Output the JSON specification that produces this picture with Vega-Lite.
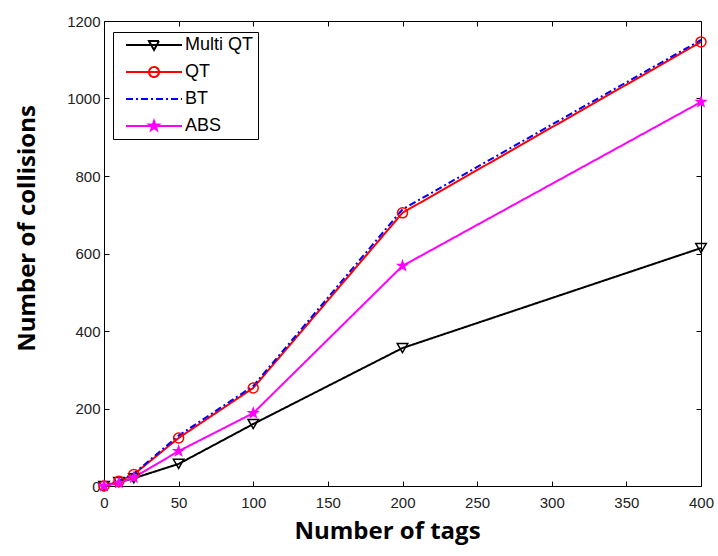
{
  "$schema": "https://vega.github.io/schema/vega-lite/v6.json",
  "autosize": {"type": "none"},
  "width": 597,
  "height": 465,
  "padding": {"left": 104, "top": 21, "right": 17, "bottom": 70},
  "background": "white",
  "config": {
    "view": {"stroke": "#000", "strokeWidth": 1},
    "axis": {
      "domain": false,
      "grid": false,
      "tickColor": "#000",
      "tickSize": -5,
      "labelFlush": false,
      "labelOverlap": false,
      "labelFont": "Liberation Sans",
      "labelFontSize": 15,
      "labelColor": "#222",
      "labelPadding": 9,
      "titleFont": "Open Sans",
      "titleFontSize": 24,
      "titleFontWeight": "bold",
      "titleColor": "#000"
    }
  },
  "data": {
    "values": [
      {"tags": 0, "collisions": 0, "series": "Multi QT"},
      {"tags": 10, "collisions": 10, "series": "Multi QT"},
      {"tags": 20, "collisions": 20, "series": "Multi QT"},
      {"tags": 50, "collisions": 57, "series": "Multi QT"},
      {"tags": 100, "collisions": 160, "series": "Multi QT"},
      {"tags": 200, "collisions": 356, "series": "Multi QT"},
      {"tags": 400, "collisions": 614, "series": "Multi QT"},
      {"tags": 0, "collisions": 0, "series": "QT"},
      {"tags": 10, "collisions": 12, "series": "QT"},
      {"tags": 20, "collisions": 30, "series": "QT"},
      {"tags": 50, "collisions": 124, "series": "QT"},
      {"tags": 100, "collisions": 253, "series": "QT"},
      {"tags": 200, "collisions": 705, "series": "QT"},
      {"tags": 400, "collisions": 1146, "series": "QT"},
      {"tags": 0, "collisions": 0, "series": "BT"},
      {"tags": 10, "collisions": 13, "series": "BT"},
      {"tags": 20, "collisions": 32, "series": "BT"},
      {"tags": 50, "collisions": 130, "series": "BT"},
      {"tags": 100, "collisions": 258, "series": "BT"},
      {"tags": 200, "collisions": 714, "series": "BT"},
      {"tags": 400, "collisions": 1151, "series": "BT"},
      {"tags": 0, "collisions": 0, "series": "ABS"},
      {"tags": 10, "collisions": 8, "series": "ABS"},
      {"tags": 20, "collisions": 22, "series": "ABS"},
      {"tags": 50, "collisions": 90, "series": "ABS"},
      {"tags": 100, "collisions": 188, "series": "ABS"},
      {"tags": 200, "collisions": 568, "series": "ABS"},
      {"tags": 400, "collisions": 991, "series": "ABS"}
    ]
  },
  "resolve": {"axis": {"x": "independent", "y": "independent"}},
  "layer": [
    {
      "mark": {"type": "line", "strokeWidth": 2},
      "encoding": {
        "x": {
          "field": "tags", "type": "quantitative",
          "scale": {"domain": [0, 400], "nice": false},
          "axis": {"values": [0, 50, 100, 150, 200, 250, 300, 350, 400], "format": "d", "labelPadding": 14, "title": "Number of tags", "titlePadding": 9, "titleX": 283, "titleAlign": "center"}
        },
        "y": {
          "field": "collisions", "type": "quantitative",
          "scale": {"domain": [0, 1200], "nice": false},
          "axis": {"values": [0, 200, 400, 600, 800, 1000, 1200], "format": "d", "title": "Number of collisions", "titlePadding": 27, "titleY": 207, "titleAlign": "center"}
        },
        "color": {
          "field": "series", "type": "nominal",
          "scale": {"domain": ["Multi QT", "QT", "BT", "ABS"], "range": ["#000000", "#ff0000", "#0000ff", "#ff00ff"]},
          "legend": {
            "orient": "none",
            "legendX": 9,
            "legendY": 11,
            "title": null,
            "padding": 4,
            "strokeColor": "#000",
            "fillColor": "white",
            "symbolSize": 100,
            "symbolStrokeWidth": 2,
            "symbolOffset": 28,
            "labelOffset": 22,
            "labelFont": "Liberation Sans",
            "labelFontSize": 18,
            "labelColor": "#000",
            "rowPadding": 9,
            "encode": {
              "symbols": {
                "update": {
                  "shape": {"signal": "datum.value === 'Multi QT' ? 'M-5.6,0H5.6M-1,-0.8L1,-0.8L0,1Z' : datum.value === 'QT' ? 'M-5.6,0H5.6M-1,0A1,1 0 1,0 1,0A1,1 0 1,0 -1,0Z' : datum.value === 'BT' ? 'M-5.6,0H5.6' : 'M-5.6,0H5.6M0,-1L0.235,-0.324L0.951,-0.309L0.38,0.124L0.588,0.809L0,0.4L-0.588,0.809L-0.38,0.124L-0.951,-0.309L-0.235,-0.324Z'"},
                  "fill": {"signal": "datum.value === 'ABS' ? '#ff00ff' : 'transparent'"}
                }
              }
            }
          }
        },
        "strokeDash": {
          "field": "series", "type": "nominal",
          "scale": {"domain": ["Multi QT", "QT", "BT", "ABS"], "range": [[1, 0], [1, 0], [7, 3, 2, 3], [1, 0]]},
          "legend": null
        }
      }
    },
    {
      "transform": [{"filter": "datum.series !== 'BT'"}],
      "mark": {"type": "point", "filled": false, "strokeWidth": 1.5, "opacity": 1},
      "encoding": {
        "x": {
          "field": "tags", "type": "quantitative",
          "axis": {"orient": "top", "values": [0, 50, 100, 150, 200, 250, 300, 350, 400], "labels": false, "title": null}
        },
        "y": {
          "field": "collisions", "type": "quantitative",
          "axis": {"orient": "right", "values": [0, 200, 400, 600, 800, 1000, 1200], "labels": false, "title": null}
        },
        "color": {"field": "series", "type": "nominal"},
        "shape": {
          "field": "series", "type": "nominal",
          "scale": {"domain": ["Multi QT", "QT", "ABS"], "range": ["triangle-down", "circle", "M0,-1L0.235,-0.324L0.951,-0.309L0.38,0.124L0.588,0.809L0,0.4L-0.588,0.809L-0.38,0.124L-0.951,-0.309L-0.235,-0.324Z"]},
          "legend": null
        },
        "fill": {
          "field": "series", "type": "nominal",
          "scale": {"domain": ["Multi QT", "QT", "ABS"], "range": ["transparent", "transparent", "#ff00ff"]},
          "legend": null
        },
        "size": {
          "field": "series", "type": "nominal",
          "scale": {"domain": ["Multi QT", "QT", "ABS"], "range": [110, 90, 120]},
          "legend": null
        }
      }
    }
  ]
}
